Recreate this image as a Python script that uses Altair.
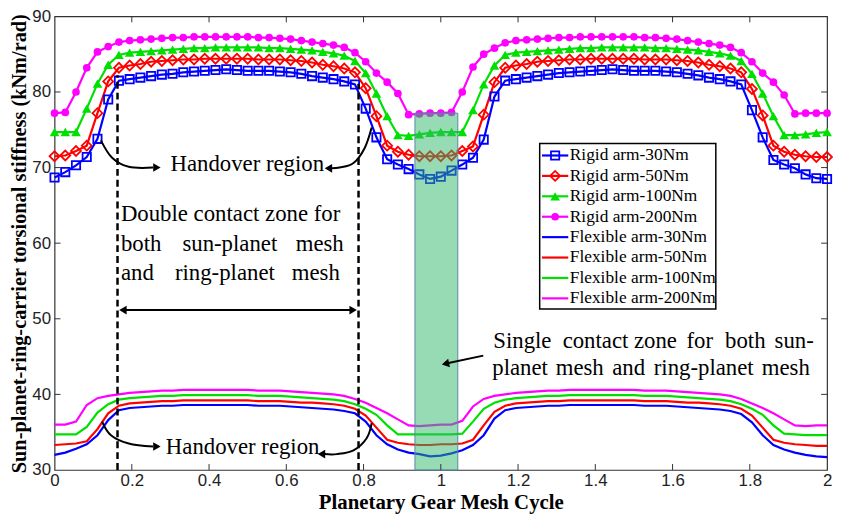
import altair as alt
import pandas as pd

# ---------------- data ----------------
x_grid = [i / 36 for i in range(73)]  # sampling grid of the mesh cycle (0..2)

rigid_30 = [68.7, 69.4, 70.3, 71.4, 73.8, 79.0, 81.5, 81.7, 81.9, 82.1, 82.3, 82.4, 82.6, 82.7, 82.8, 82.9, 83.0, 82.9, 82.8, 82.8, 82.8, 82.7, 82.6, 82.4, 82.1, 81.9, 81.7, 81.4, 81.0, 77.8, 74.0, 71.1, 70.4, 69.8, 69.1, 68.5, 68.8,
            69.6, 70.4, 71.3, 73.7, 79.4, 81.5, 81.7, 81.9, 82.1, 82.3, 82.5, 82.6, 82.7, 82.8, 82.9, 83.0, 82.9, 82.8, 82.8, 82.8, 82.7, 82.6, 82.4, 82.2, 81.9, 81.7, 81.4, 81.0, 77.6, 74.0, 71.0, 70.4, 69.9, 69.1, 68.6, 68.5]
rigid_50 = [71.5, 71.6, 72.2, 72.9, 77.2, 81.4, 83.2, 83.5, 83.7, 84.0, 84.1, 84.2, 84.3, 84.3, 84.4, 84.4, 84.4, 84.4, 84.4, 84.3, 84.3, 84.3, 84.2, 84.1, 83.9, 83.6, 83.4, 83.1, 82.6, 80.5, 76.8, 72.9, 72.1, 71.7, 71.5, 71.5, 71.5,
            71.6, 72.2, 72.8, 77.0, 81.3, 83.2, 83.5, 83.7, 84.0, 84.1, 84.2, 84.3, 84.3, 84.4, 84.4, 84.4, 84.4, 84.4, 84.3, 84.3, 84.3, 84.2, 84.1, 83.9, 83.6, 83.4, 83.1, 82.6, 80.4, 76.9, 72.9, 72.1, 71.7, 71.5, 71.4, 71.4]
rigid_100 = [74.7, 74.7, 74.7, 77.8, 81.1, 83.6, 84.9, 85.2, 85.3, 85.4, 85.5, 85.6, 85.7, 85.8, 85.8, 85.9, 85.9, 85.9, 85.9, 85.9, 85.8, 85.8, 85.7, 85.6, 85.5, 85.3, 85.1, 84.8, 84.1, 82.5, 79.8, 76.8, 74.3, 74.2, 74.4, 74.6, 74.7,
             74.7, 74.7, 77.6, 81.0, 83.5, 84.9, 85.2, 85.3, 85.4, 85.5, 85.6, 85.7, 85.8, 85.8, 85.9, 85.9, 85.9, 85.9, 85.9, 85.8, 85.8, 85.7, 85.6, 85.5, 85.3, 85.1, 84.8, 84.1, 82.4, 79.8, 76.8, 74.3, 74.3, 74.4, 74.6, 74.7]
rigid_200 = [77.2, 77.3, 80.0, 83.2, 85.3, 86.0, 86.6, 86.8, 86.9, 87.0, 87.1, 87.2, 87.2, 87.3, 87.3, 87.3, 87.3, 87.3, 87.3, 87.2, 87.2, 87.1, 87.0, 86.8, 86.6, 86.4, 86.2, 85.9, 85.2, 84.0, 82.5, 81.3, 79.8, 77.0, 77.1, 77.2, 77.2,
             77.3, 80.0, 83.3, 85.0, 85.8, 86.5, 86.8, 86.9, 87.0, 87.1, 87.2, 87.2, 87.3, 87.3, 87.3, 87.3, 87.3, 87.3, 87.2, 87.2, 87.1, 87.0, 86.8, 86.6, 86.4, 86.2, 85.9, 85.2, 84.0, 82.5, 81.3, 79.6, 77.1, 77.2, 77.2, 77.2]
flex_30 = [32.0, 32.3, 32.8, 33.4, 34.6, 36.6, 37.9, 38.2, 38.3, 38.4, 38.5, 38.5, 38.6, 38.6, 38.6, 38.6, 38.6, 38.6, 38.6, 38.5, 38.5, 38.5, 38.4, 38.3, 38.2, 38.1, 38.0, 37.8, 37.5, 36.4, 34.6, 33.4, 32.7, 32.3, 32.1, 31.8, 31.9,
           32.2, 32.6, 33.3, 34.6, 36.8, 37.9, 38.2, 38.3, 38.4, 38.5, 38.5, 38.6, 38.6, 38.6, 38.6, 38.6, 38.6, 38.6, 38.5, 38.5, 38.5, 38.4, 38.3, 38.2, 38.1, 38.0, 37.8, 37.4, 36.3, 34.6, 33.3, 32.7, 32.3, 32.0, 31.8, 31.7]
flex_50 = [33.3, 33.4, 33.5, 33.8, 35.4, 37.5, 38.5, 38.8, 38.9, 39.0, 39.1, 39.1, 39.2, 39.2, 39.2, 39.2, 39.2, 39.2, 39.2, 39.1, 39.1, 39.1, 39.0, 38.9, 38.9, 38.8, 38.7, 38.5, 38.1, 37.2, 35.6, 34.0, 33.6, 33.4, 33.3, 33.3, 33.4,
           33.4, 33.5, 34.0, 35.9, 37.7, 38.5, 38.8, 38.9, 39.0, 39.1, 39.1, 39.2, 39.2, 39.2, 39.2, 39.2, 39.2, 39.2, 39.1, 39.1, 39.1, 39.0, 38.9, 38.9, 38.8, 38.7, 38.5, 38.1, 37.2, 35.6, 34.0, 33.6, 33.4, 33.3, 33.2, 33.2]
flex_100 = [34.7, 34.7, 34.7, 35.7, 37.6, 38.7, 39.3, 39.5, 39.6, 39.7, 39.8, 39.8, 39.9, 39.9, 39.9, 39.9, 39.9, 39.9, 39.9, 39.8, 39.8, 39.8, 39.7, 39.6, 39.5, 39.4, 39.3, 39.1, 38.7, 38.1, 37.3, 35.9, 34.7, 34.7, 34.7, 34.7, 34.7,
            34.7, 34.8, 36.4, 38.1, 38.9, 39.3, 39.5, 39.6, 39.7, 39.8, 39.8, 39.9, 39.9, 39.9, 39.9, 39.9, 39.9, 39.9, 39.8, 39.8, 39.8, 39.7, 39.6, 39.5, 39.4, 39.3, 39.1, 38.7, 38.1, 37.3, 35.9, 34.8, 34.7, 34.6, 34.6, 34.6]
flex_200 = [36.0, 36.0, 36.4, 38.6, 39.5, 39.8, 40.0, 40.2, 40.3, 40.4, 40.5, 40.5, 40.6, 40.6, 40.6, 40.6, 40.6, 40.6, 40.6, 40.5, 40.5, 40.5, 40.4, 40.3, 40.2, 40.1, 40.0, 39.8, 39.4, 38.9, 38.2, 37.5, 36.7, 35.9, 35.8, 35.9, 36.0,
            36.0, 36.5, 38.4, 39.4, 39.8, 40.0, 40.2, 40.3, 40.4, 40.5, 40.5, 40.6, 40.6, 40.6, 40.6, 40.6, 40.6, 40.6, 40.5, 40.5, 40.5, 40.4, 40.3, 40.2, 40.1, 40.0, 39.8, 39.4, 38.8, 38.2, 37.5, 36.7, 35.9, 35.8, 35.9, 35.9]

series_names = ["Rigid arm-30Nm", "Rigid arm-50Nm", "Rigid arm-100Nm", "Rigid arm-200Nm",
                "Flexible arm-30Nm", "Flexible arm-50Nm", "Flexible arm-100Nm", "Flexible arm-200Nm"]
series_values = [rigid_30, rigid_50, rigid_100, rigid_200, flex_30, flex_50, flex_100, flex_200]
series_colors = ["#0000ff", "#ff0000", "#00e000", "#ff00ff", "#0000ff", "#ff0000", "#00e000", "#ff00ff"]
rigid_shapes = ["square", "diamond", "triangle-up", "circle"]
rigid_filled = [False, False, True, True]
rigid_sizes = [70, 100, 95, 60]

x_ticks = [0, 0.2, 0.4, 0.6, 0.8, 1, 1.2, 1.4, 1.6, 1.8, 2]
y_ticks = [30, 40, 50, 60, 70, 80, 90]

# single-contact (shaded) zone and double-contact boundaries
band_x = [0.933, 1.044]
band_y = [30, 77.2]
dash_x = [0.163, 0.787]
dash_top = [82.2, 81.1]
double_arrow_y = 51.15

# ---------------- layout ----------------
W, H = 780, 458
SERIF = "Liberation Serif"
SANS = "Liberation Sans"

rows = []
for name, vals in zip(series_names, series_values):
    assert len(vals) == len(x_grid), (name, len(vals))
    for xv, yv in zip(x_grid, vals):
        rows.append({"x": xv, "y": yv, "series": name})
df = pd.DataFrame(rows)

xs = alt.Scale(domain=[0, 2], nice=False, zero=False)
ys = alt.Scale(domain=[30, 90], nice=False, zero=False)

x_axis = alt.Axis(
    values=x_ticks, format="~g", title="Planetary Gear Mesh Cycle",
    labelFont=SANS, labelFontSize=17, labelColor="#222", labelPadding=3,
    titleFont=SERIF, titleFontSize=21, titleFontWeight="bold", titleColor="black", titlePadding=3,
    ticks=False, domain=False, grid=False, labelFlush=False)
y_axis = alt.Axis(
    values=y_ticks, format="d", title="Sun-planet-ring-carrier torsional stiffness (kNm/rad)",
    labelFont=SANS, labelFontSize=17, labelColor="#222", labelPadding=4,
    titleFont=SERIF, titleFontSize=20.5, titleFontWeight="bold", titleColor="black", titlePadding=2,
    ticks=False, domain=False, grid=False, labelFlush=False)


def X(f="x:Q"):
    return alt.X(f, scale=xs, axis=x_axis)


def Y(f="y:Q"):
    return alt.Y(f, scale=ys, axis=y_axis)


lines = alt.Chart(df).mark_line(strokeWidth=2.2).encode(
    x=X(), y=Y(),
    color=alt.Color("series:N", scale=alt.Scale(domain=series_names, range=series_colors), legend=None),
    detail="series:N",
)

point_layers = []
for name, col, shp, fil, sz in zip(series_names[:4], series_colors[:4], rigid_shapes, rigid_filled, rigid_sizes):
    point_layers.append(
        alt.Chart(df[df["series"] == name]).mark_point(
            shape=shp, filled=fil, color=col, size=sz, strokeWidth=1.8, opacity=1
        ).encode(x=X(), y=Y())
    )

# inward ticks on all four sides
xt = pd.DataFrame({"x": x_ticks[1:-1]})
yt = pd.DataFrame({"y": y_ticks[1:-1]})
tick_style = dict(color="#333", strokeWidth=1)
ticks = [
    alt.Chart(xt).mark_rule(**tick_style).encode(x=X(), y=alt.value(H), y2=alt.value(H - 6)),
    alt.Chart(xt).mark_rule(**tick_style).encode(x=X(), y=alt.value(0), y2=alt.value(6)),
    alt.Chart(yt).mark_rule(**tick_style).encode(y=Y(), x=alt.value(0), x2=alt.value(6)),
    alt.Chart(yt).mark_rule(**tick_style).encode(y=Y(), x=alt.value(W), x2=alt.value(W - 6)),
]

band = alt.Chart(pd.DataFrame({"x": [band_x[0]], "x2": [band_x[1]], "y": [band_y[0]], "y2": [band_y[1]]})).mark_rect(
    fill="#2db86a", fillOpacity=0.5, stroke="#5a8aa8", strokeWidth=1
).encode(x=X(), x2="x2:Q", y=Y(), y2="y2:Q")

dashes = alt.Chart(pd.DataFrame({"x": dash_x, "y": [30, 30], "y2": dash_top})).mark_rule(
    color="black", strokeWidth=2.5, strokeDash=[7, 4]
).encode(x=X(), y=Y(), y2="y2:Q")

darrow = alt.Chart(pd.DataFrame({"x": [dash_x[0] + 0.01], "x2": [dash_x[1] - 0.01], "y": [double_arrow_y]})).mark_rule(
    color="black", strokeWidth=2
).encode(x=X(), x2="x2:Q", y=Y())

heads = pd.DataFrame({
    "x": [dash_x[0] + 0.014, dash_x[1] - 0.014, 0.265, 0.709, 0.265, 0.691, 1.012],
    "y": [double_arrow_y, double_arrow_y, 70.0, 69.9, 33.1, 32.1, 44.05],
    "shape": ["triangle-left", "triangle-right", "triangle-right", "triangle-left", "triangle-right", "triangle-left", "triangle-left"],
    "angle": [0, 0, 0, 0, 0, 0, 348],
})
head_layers = []
for _, r in heads.iterrows():
    head_layers.append(
        alt.Chart(pd.DataFrame({"x": [r["x"]], "y": [r["y"]]})).mark_point(
            shape=r["shape"], filled=True, color="black", size=75, opacity=1, angle=float(r["angle"]))
        .encode(x=X(), y=Y())
    )

curves = pd.DataFrame({
    "x": [0.120, 0.149, 0.192, 0.255,   0.821, 0.803, 0.774, 0.738, 0.715,
          0.123, 0.146, 0.192, 0.255,   0.821, 0.808, 0.774, 0.731, 0.700,
          1.110, 1.020],
    "y": [73.6, 71.3, 70.1, 70.0,   75.3, 72.6, 70.6, 70.0, 69.9,
          36.4, 34.6, 33.5, 33.1,   36.2, 34.2, 32.6, 32.1, 32.1,
          45.13, 44.15],
    "g": [0] * 4 + [1] * 5 + [2] * 4 + [3] * 5 + [4] * 2,
    "o": list(range(4)) + list(range(5)) + list(range(4)) + list(range(5)) + list(range(2)),
})
curve_layer = alt.Chart(curves).mark_line(color="black", strokeWidth=2, interpolate="cardinal").encode(
    x=X(), y=Y(), detail="g:N", order="o:Q"
)

texts = pd.DataFrame({
    "x": [0.499, 0.487, 0.1718, 0.1718, 0.4538, 0.7487, 0.1718, 0.441, 0.7385,
          1.1359, 1.3154, 1.5, 1.6359, 1.7359, 1.8641,
          1.1333, 1.2974, 1.4436, 1.5513, 1.8308],
    "y": [70.4, 33.0, 63.8, 59.9, 59.9, 59.9, 56.0, 56.0, 56.0,
          47.05, 47.05, 47.05, 47.05, 47.05, 47.05,
          43.46, 43.46, 43.46, 43.46, 43.46],
    "text": ["Handover region", "Handover region", "Double contact zone for", "both", "sun-planet", "mesh",
             "and", "ring-planet", "mesh",
             "Single", "contact", "zone", "for", "both", "sun-",
             "planet", "mesh", "and", "ring-planet", "mesh"],
    "align": ["center", "center", "left", "left", "center", "right", "left", "center", "right",
              "left", "left", "left", "left", "left", "left",
              "left", "left", "left", "left", "left"],
})
text_layers = []
for al in ["left", "center", "right"]:
    sub = texts[texts["align"] == al]
    text_layers.append(
        alt.Chart(sub).mark_text(font=SERIF, fontSize=23, align=al, baseline="middle", color="black")
        .encode(x=X(), y=Y(), text="text:N")
    )

# legend (placed in data coordinates)
leg_box = alt.Chart(pd.DataFrame({"x": [1.256], "x2": [1.712], "y": [51.3], "y2": [73.2]})).mark_rect(
    fill="white", stroke="black", strokeWidth=1.5
).encode(x=X(), x2="x2:Q", y=Y(), y2="y2:Q")

leg_rows = []
for k, (name, col) in enumerate(zip(series_names, series_colors)):
    leg_rows.append({"name": name, "y": 71.6 - 2.7 * k})
leg = pd.DataFrame(leg_rows)

leg_lines = alt.Chart(leg.assign(x=1.262, x2=1.330)).mark_rule(strokeWidth=2.2).encode(
    x=X(), x2="x2:Q", y=Y(),
    color=alt.Color("name:N", scale=alt.Scale(domain=series_names, range=series_colors), legend=None),
)
leg_pts = []
for k in range(4):
    leg_pts.append(
        alt.Chart(leg.iloc[[k]].assign(x=1.296)).mark_point(
            shape=rigid_shapes[k], filled=rigid_filled[k], color=series_colors[k],
            size=rigid_sizes[k], strokeWidth=1.8, opacity=1)
        .encode(x=X(), y=Y())
    )
leg_text = alt.Chart(leg.assign(x=1.334)).mark_text(
    font=SERIF, fontSize=17.5, align="left", baseline="middle", color="black"
).encode(x=X(), y=Y(), text="name:N")

chart = alt.layer(
    lines, *point_layers, band, *ticks, dashes, darrow, curve_layer, *head_layers, *text_layers,
    leg_box, leg_lines, *leg_pts, leg_text,
).properties(
    width=W, height=H,
    background="white",
    autosize=alt.AutoSizeParams(type="none"),
    padding={"left": 47, "top": 6, "right": 6, "bottom": 44},
).configure_view(stroke="#333", strokeWidth=1.2)

chart.save("out.html", embed_options={"renderer": "svg", "actions": False})
